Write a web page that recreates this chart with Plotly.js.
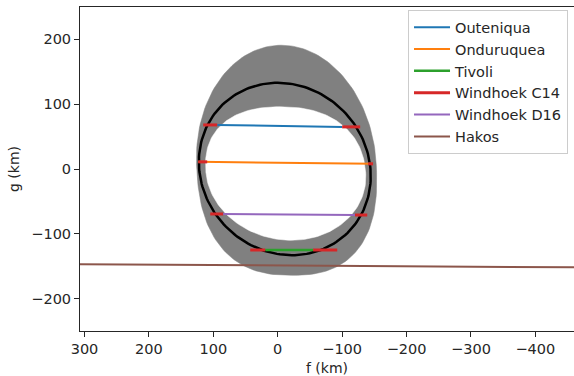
<!DOCTYPE html>
<html>
<head>
<meta charset="utf-8">
<script src="https://cdn.plot.ly/plotly-3.0.1.min.js"></script>
<style>html,body{margin:0;padding:0;background:#fff}#chart{width:574px;height:376px}</style>
</head>
<body>
<div id="chart"></div>
<script>
// ---- data (f, g in km) ----
// ellipse descriptors: [centre f, centre g, semi-axis f, semi-axis g (upper), semi-axis g (lower), shear, exponent upper, exponent lower]
const fitEllipse   = [-11, 0, 133, 133, 133, -11, 2.0, 2.0];
const bandOuter    = [-13.5, 6, 139.5, 185, 170, -8, 2.0, 2.5];
const bandInner    = [-12.5, -5, 124, 101, 105, -8.5, 2.3, 2.0];

const outeniquaF = [94, -100];
const outeniquaG = [68, 65];
const onduruqueaF = [123.4, -148];
const onduruqueaG = [11, 8];
const tivoliF = [19.4, -55];
const tivoliG = [-125, -125];
const windhoekC14F = [115.7, 94, null, -100, -128, null, 123.4, 109.5, null, -140.5, -148, null, 104.8, 84.6, null, -120, -139, null, 42.7, 19.4, null, -55, -92.4];
const windhoekC14G = [68, 68, null, 65, 65, null, 11, 11, null, 8, 8, null, -69.4, -69.4, null, -71, -71, null, -125, -125, null, -125, -125];
const windhoekD16F = [84.6, -120];
const windhoekD16G = [-69.4, -71];
const hakosF = [307, -460];
const hakosG = [-147, -151.7];

const xTicks = [300, 200, 100, 0, -100, -200, -300, -400];
const yTicks = [-200, -100, 0, 100, 200];

// ---- curve builder from ellipse descriptors ----
function curve(p) {
  const [cf, cg, a, bu, bl, k, nu, nl] = p;
  const F = [], G = [];
  for (let i = 0; i <= 360; i += 2) {
    const t = i * Math.PI / 180;
    const c = Math.cos(t), s = Math.sin(t);
    const n = s >= 0 ? nu : nl;
    const b = s >= 0 ? bu : bl;
    const C = Math.sign(c) * Math.pow(Math.abs(c), 2 / n);
    const S = Math.sign(s) * Math.pow(Math.abs(s), 2 / n);
    F.push(cf + a * C - k * S);
    G.push(cg + b * S);
  }
  return [F, G];
}

const outer = curve(bandOuter);
const inner = curve(bandInner);
const fit = curve(fitEllipse);

const font = {family: 'DejaVu Sans, sans-serif', size: 14.5, color: '#262626'};
const titleFont = {family: 'DejaVu Sans, sans-serif', size: 14, color: '#262626'};

const traces = [
  {x: outer[0], y: outer[1], mode: 'lines', fill: 'toself',
   fillcolor: '#808080', line: {width: 0.5, color: '#808080'}, showlegend: false, hoverinfo: 'skip'},
  {x: inner[0], y: inner[1], mode: 'lines', fill: 'toself',
   fillcolor: '#ffffff', line: {width: 0.5, color: '#ffffff'}, showlegend: false, hoverinfo: 'skip'},
  {x: fit[0], y: fit[1], mode: 'lines', line: {color: '#000000', width: 2.5}, showlegend: false},
  {x: outeniquaF, y: outeniquaG, mode: 'lines', name: 'Outeniqua', line: {color: '#1f77b4', width: 2}},
  {x: onduruqueaF, y: onduruqueaG, mode: 'lines', name: 'Onduruquea', line: {color: '#ff7f0e', width: 2}},
  {x: tivoliF, y: tivoliG, mode: 'lines', name: 'Tivoli', line: {color: '#2ca02c', width: 2.5}},
  {x: windhoekC14F, y: windhoekC14G, mode: 'lines', name: 'Windhoek C14', connectgaps: false, line: {color: '#d62728', width: 3}},
  {x: windhoekD16F, y: windhoekD16G, mode: 'lines', name: 'Windhoek D16', line: {color: '#9467bd', width: 2}},
  {x: hakosF, y: hakosG, mode: 'lines', name: 'Hakos', line: {color: '#8c564b', width: 2}}
];

const layout = {
  width: 574, height: 376,
  margin: {l: 80, r: 0, t: 7, b: 45},
  paper_bgcolor: '#ffffff', plot_bgcolor: '#ffffff',
  font: font,
  showlegend: true,
  xaxis: {
    range: [307, -460], tickvals: xTicks, ticktext: xTicks.map(v => v < 0 ? '\u2212' + (-v) : String(v)),
    showgrid: false, zeroline: false, showline: true, mirror: true, linecolor: '#262626', linewidth: 1,
    ticks: 'outside', ticklen: 5, tickcolor: '#262626', tickfont: font,
    title: {text: 'f (km)', font: titleFont, standoff: 6}
  },
  yaxis: {
    range: [-250, 250], tickvals: yTicks, ticktext: yTicks.map(v => v < 0 ? '\u2212' + (-v) : String(v)),
    showgrid: false, zeroline: false, showline: true, linecolor: '#262626', linewidth: 1,
    ticks: 'outside', ticklen: 5, tickcolor: '#262626', tickfont: font,
    title: {text: 'g (km)', font: titleFont, standoff: 8}
  },
  legend: {
    x: 0.664, y: 0.99, xanchor: 'left', yanchor: 'top',
    bgcolor: 'rgba(255,255,255,0.8)', bordercolor: '#cccccc', borderwidth: 1,
    font: font, tracegroupgap: 0, itemwidth: 36
  }
};

Plotly.newPlot('chart', traces, layout, {staticPlot: true, displayModeBar: false});
</script>
</body>
</html>
